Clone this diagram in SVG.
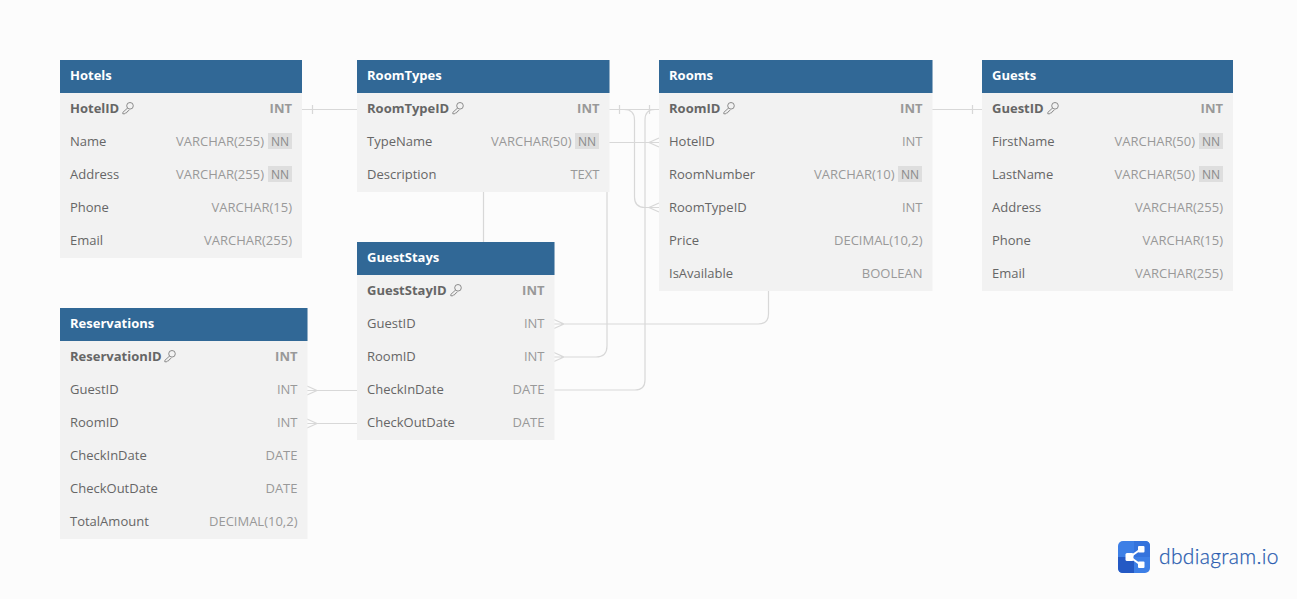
<svg xmlns="http://www.w3.org/2000/svg" width="1297" height="599" viewBox="0 0 1297 599">
<style>
text{font-family:"Open Sans","Noto Sans",sans-serif;font-size:13px}
.bg{fill:#f2f2f2}.hd{fill:#316896}
.t{font-weight:700;fill:#fff;font-size:13px}
.n{fill:#666}.k{fill:#666;font-weight:700}
.y{fill:#999;text-anchor:end}.yk{fill:#999;font-weight:700;text-anchor:end}
.nb{fill:#dedede}.nn{fill:#8a8a8a;text-anchor:middle;font-size:12px}
.c{fill:none;stroke:#d8d8d8;stroke-width:1.2}
.key{fill:none;stroke:#808080;stroke-width:.9}
</style>
<defs>
<g id="key" class="key"><circle cx="7.500" cy="3.800" r="3.300"/><path d="M5.100 6L0.300 10.400V11.800H2.300L3.100 10.800H4.100L4.500 9.800L6.900 8"/></g>
</defs>
<rect width="1297" height="599" fill="#fcfcfc"/>
<g id="connectors">
<path class="c" d="M302 109.500H357M312.500 105V114"/>
<path class="c" d="M609 109.500H659M619.500 105V114M649.500 105V114"/>
<path class="c" d="M619 109.500H624Q634.500 109.500 634.500 120V197Q634.500 207.500 645 207.500H659M659 203L649 207.500L659 212"/>
<path class="c" d="M659 109.500H655Q645 109.500 645 120V380Q645 390 635 390H554"/>
<path class="c" d="M609 142.500H659M659 138L649 142.500L659 147"/>
<path class="c" d="M607 192V346Q607 357 596 357H554M554 352.500L564 357L554 361.500"/>
<path class="c" d="M483.500 192V242"/>
<path class="c" d="M768.500 291V314Q768.500 324 758 324H554M554 319.500L564 324L554 328.500"/>
<path class="c" d="M357 390.500H307M307 386L317 390.500L307 395"/>
<path class="c" d="M357 423.500H307M307 419L317 423.500L307 428"/>
<path class="c" d="M932 109.500H982M972.500 105V114"/>
</g>
<g id="hotels">
<rect class="bg" x="60" y="60" width="242" height="198"/><rect class="hd" x="60" y="60" width="242" height="33"/>
<text class="t" x="70" y="80">Hotels</text>
<text class="k" x="70" y="113">HotelID</text><use href="#key" x="122.500" y="102"/><text class="yk" x="292" y="113">INT</text>
<text class="n" x="70" y="146">Name</text><text class="y" x="264" y="146">VARCHAR(255)</text><rect class="nb" x="268" y="133" width="24" height="16"/><text class="nn" x="280" y="146">NN</text>
<text class="n" x="70" y="179">Address</text><text class="y" x="264" y="179">VARCHAR(255)</text><rect class="nb" x="268" y="166" width="24" height="16"/><text class="nn" x="280" y="179">NN</text>
<text class="n" x="70" y="212">Phone</text><text class="y" x="292" y="212">VARCHAR(15)</text>
<text class="n" x="70" y="245">Email</text><text class="y" x="292" y="245">VARCHAR(255)</text>
</g>
<g id="roomtypes">
<rect class="bg" x="357" y="60" width="252.500" height="132"/><rect class="hd" x="357" y="60" width="252.500" height="33"/>
<text class="t" x="367" y="80">RoomTypes</text>
<text class="k" x="367" y="113">RoomTypeID</text><use href="#key" x="452.500" y="102"/><text class="yk" x="599.500" y="113">INT</text>
<text class="n" x="367" y="146">TypeName</text><text class="y" x="571.500" y="146">VARCHAR(50)</text><rect class="nb" x="575" y="133" width="24" height="16"/><text class="nn" x="587" y="146">NN</text>
<text class="n" x="367" y="179">Description</text><text class="y" x="599.500" y="179">TEXT</text>
</g>
<g id="rooms">
<rect class="bg" x="659" y="60" width="273.500" height="231"/><rect class="hd" x="659" y="60" width="273.500" height="33"/>
<text class="t" x="669" y="80">Rooms</text>
<text class="k" x="669" y="113">RoomID</text><use href="#key" x="723.500" y="102"/><text class="yk" x="922.500" y="113">INT</text>
<text class="n" x="669" y="146">HotelID</text><text class="y" x="922.500" y="146">INT</text>
<text class="n" x="669" y="179">RoomNumber</text><text class="y" x="894.500" y="179">VARCHAR(10)</text><rect class="nb" x="898" y="166" width="24" height="16"/><text class="nn" x="910" y="179">NN</text>
<text class="n" x="669" y="212">RoomTypeID</text><text class="y" x="922.500" y="212">INT</text>
<text class="n" x="669" y="245">Price</text><text class="y" x="922.500" y="245">DECIMAL(10,2)</text>
<text class="n" x="669" y="278">IsAvailable</text><text class="y" x="922.500" y="278">BOOLEAN</text>
</g>
<g id="guests">
<rect class="bg" x="982" y="60" width="251" height="231"/><rect class="hd" x="982" y="60" width="251" height="33"/>
<text class="t" x="992" y="80">Guests</text>
<text class="k" x="992" y="113">GuestID</text><use href="#key" x="1047.500" y="102"/><text class="yk" x="1223" y="113">INT</text>
<text class="n" x="992" y="146">FirstName</text><text class="y" x="1195" y="146">VARCHAR(50)</text><rect class="nb" x="1199" y="133" width="24" height="16"/><text class="nn" x="1211" y="146">NN</text>
<text class="n" x="992" y="179">LastName</text><text class="y" x="1195" y="179">VARCHAR(50)</text><rect class="nb" x="1199" y="166" width="24" height="16"/><text class="nn" x="1211" y="179">NN</text>
<text class="n" x="992" y="212">Address</text><text class="y" x="1223" y="212">VARCHAR(255)</text>
<text class="n" x="992" y="245">Phone</text><text class="y" x="1223" y="245">VARCHAR(15)</text>
<text class="n" x="992" y="278">Email</text><text class="y" x="1223" y="278">VARCHAR(255)</text>
</g>
<g id="gueststays">
<rect class="bg" x="357" y="242" width="197.500" height="198"/><rect class="hd" x="357" y="242" width="197.500" height="33"/>
<text class="t" x="367" y="262">GuestStays</text>
<text class="k" x="367" y="295">GuestStayID</text><use href="#key" x="450.500" y="284"/><text class="yk" x="544.500" y="295">INT</text>
<text class="n" x="367" y="328">GuestID</text><text class="y" x="544.500" y="328">INT</text>
<text class="n" x="367" y="361">RoomID</text><text class="y" x="544.500" y="361">INT</text>
<text class="n" x="367" y="394">CheckInDate</text><text class="y" x="544.500" y="394">DATE</text>
<text class="n" x="367" y="427">CheckOutDate</text><text class="y" x="544.500" y="427">DATE</text>
</g>
<g id="reservations">
<rect class="bg" x="60" y="308" width="247.500" height="231"/><rect class="hd" x="60" y="308" width="247.500" height="33"/>
<text class="t" x="70" y="328">Reservations</text>
<text class="k" x="70" y="361">ReservationID</text><use href="#key" x="164.500" y="350"/><text class="yk" x="297.500" y="361">INT</text>
<text class="n" x="70" y="394">GuestID</text><text class="y" x="297.500" y="394">INT</text>
<text class="n" x="70" y="427">RoomID</text><text class="y" x="297.500" y="427">INT</text>
<text class="n" x="70" y="460">CheckInDate</text><text class="y" x="297.500" y="460">DATE</text>
<text class="n" x="70" y="493">CheckOutDate</text><text class="y" x="297.500" y="493">DATE</text>
<text class="n" x="70" y="526">TotalAmount</text><text class="y" x="297.500" y="526">DECIMAL(10,2)</text>
</g>
<g id="logo">
<rect x="1118" y="541" width="32" height="32" rx="5" fill="#3d7fe6"/>
<path d="M1118 557H1134V573H1123Q1118 573 1118 568Z" fill="#2459c4"/>
<path d="M1134 541H1145Q1150 541 1150 546V557H1134Z" fill="#3573dc"/>
<path d="M1141 549L1130 557L1141 565" fill="none" stroke="#fff" stroke-width="2"/>
<rect x="1138" y="546" width="6.500" height="6.500" rx="1" fill="#fff"/><rect x="1125.500" y="553" width="8" height="8" rx="1.500" fill="#fff"/><rect x="1138" y="561.500" width="6.500" height="6.500" rx="1" fill="#fff"/>
<text x="1159" y="564" style="font-family:Lato,sans-serif;font-size:21px;font-weight:300;fill:#2a5db0;letter-spacing:.32px;stroke:#2a5db0;stroke-width:.25px">dbdiagram.io</text>
</g>
</svg>
